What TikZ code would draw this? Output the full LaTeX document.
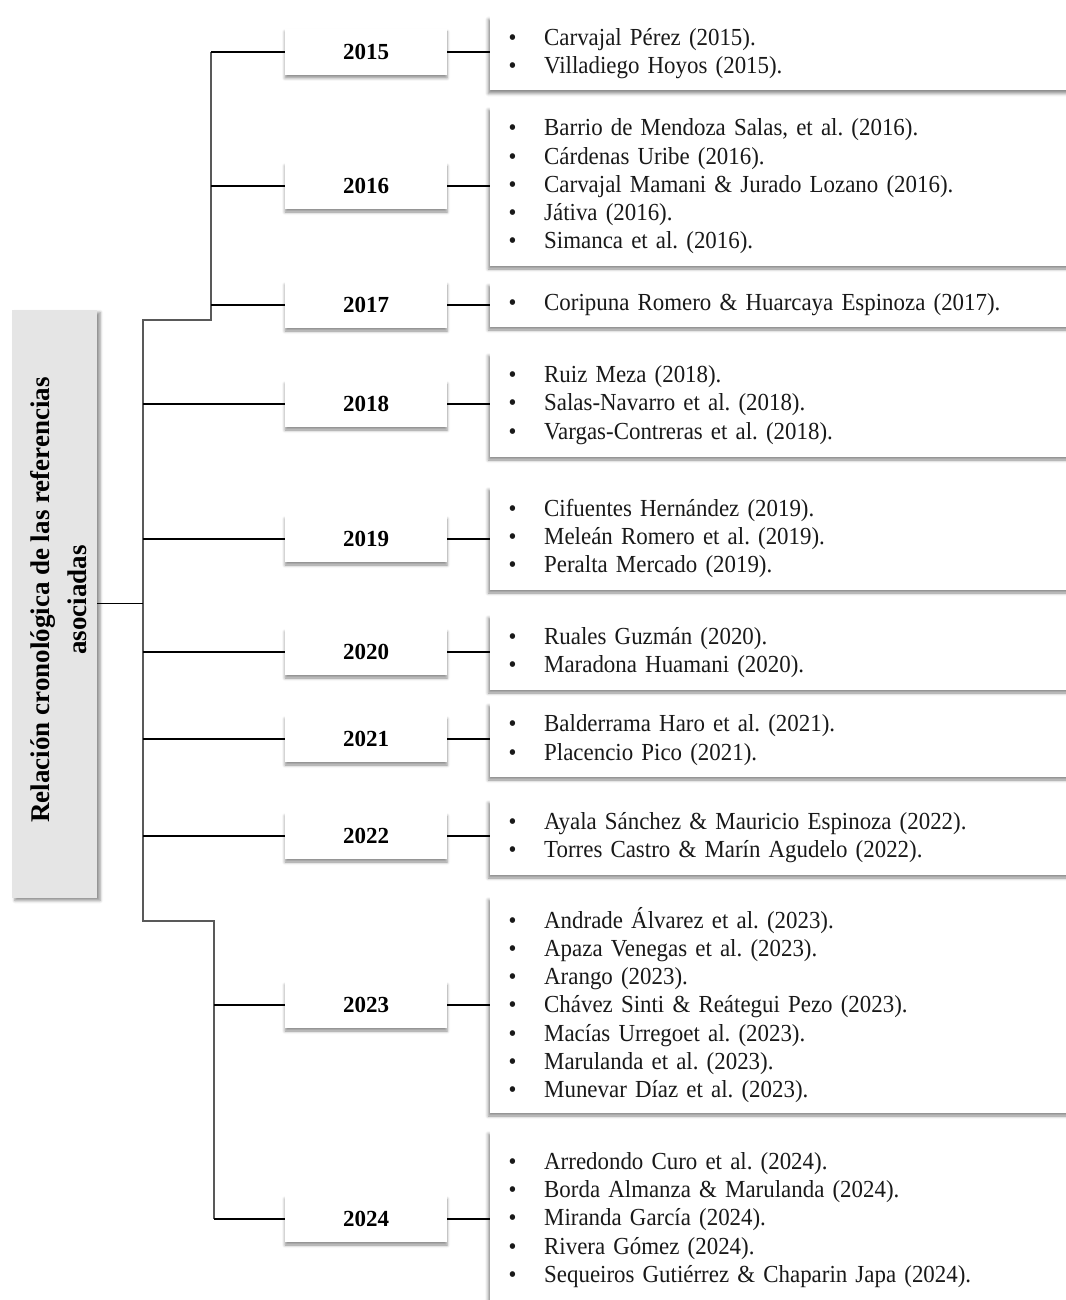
\documentclass[tikz,border=0pt]{standalone}
\usepackage{fontspec}
\setmainfont{Liberation Serif}
\newfontfamily\reffont{Liberation Serif}[FakeStretch=0.935]
\usetikzlibrary{shadows.blur}
\newcommand{\bl}[1]{\makebox[36pt][l]{\hspace{0.5pt}{\fontsize{24}{24}\selectfont\textbullet}}#1}
\frenchspacing
\begin{document}
\begin{tikzpicture}[x=1pt,y=-1pt,
  yearbox/.style={fill=white, minimum width=162pt, minimum height=46pt, inner sep=0pt,
    font=\fontsize{23}{26}\selectfont\bfseries,
    blur shadow={shadow xshift=0pt, shadow yshift=-3pt, shadow blur radius=3pt, shadow opacity=45}},
  refbox/.style={fill=white, anchor=west, text width=560pt, inner xsep=18pt, inner ysep=0pt, align=left,
    font=\reffont\fontsize{24.5}{28.2}\selectfont, text=black!90,
    blur shadow={shadow xshift=-2pt, shadow yshift=-3pt, shadow blur radius=3pt, shadow opacity=45}},
  leftbox/.style={fill=black!10, minimum width=85pt, minimum height=588pt, inner sep=0pt,
    blur shadow={shadow xshift=3pt, shadow yshift=-3pt, shadow blur radius=3pt, shadow opacity=45}},
  vline/.style={draw=black!65, line width=1.8pt},
  hline/.style={draw=black, line width=1.3pt}
]
\useasboundingbox (0,0) rectangle (1065,1300);

% left box
\node[leftbox] (left) at (54.5,603.5) {};
\node[rotate=90, align=center, font=\fontsize{27}{37}\selectfont\bfseries] (lefttext) at (59,600)
  {Relación cronológica de las referencias\\asociadas};

% year boxes
\node[yearbox] (y2015) at (366,52) {2015};
\node[yearbox] (y2016) at (366,186) {2016};
\node[yearbox] (y2017) at (366,305) {2017};
\node[yearbox] (y2018) at (366,404) {2018};
\node[yearbox] (y2019) at (366,539) {2019};
\node[yearbox] (y2020) at (366,652) {2020};
\node[yearbox] (y2021) at (366,739) {2021};
\node[yearbox] (y2022) at (366,836) {2022};
\node[yearbox] (y2023) at (366,1005) {2023};
\node[yearbox] (y2024) at (366,1219) {2024};

% reference boxes
\node[refbox, minimum height=74pt] (r2015) at (490,53.5)
  {\bl{Carvajal Pérez (2015).}\\\bl{Villadiego Hoyos (2015).}};
\node[refbox, minimum height=159pt] (r2016) at (490,186.5)
  {\bl{Barrio de Mendoza Salas, et al. (2016).}\\\bl{Cárdenas Uribe (2016).}\\\bl{Carvajal Mamani \& Jurado Lozano (2016).}\\\bl{Játiva (2016).}\\\bl{Simanca et al. (2016).}};
\node[refbox, minimum height=44pt] (r2017) at (490,305)
  {\bl{Coripuna Romero \& Huarcaya Espinoza (2017).}};
\node[refbox, minimum height=104pt] (r2018) at (490,405)
  {\bl{Ruiz Meza (2018).}\\\bl{Salas-Navarro et al. (2018).}\\\bl{Vargas-Contreras et al. (2018).}};
\node[refbox, minimum height=103pt] (r2019) at (490,538.5)
  {\bl{Cifuentes Hernández (2019).}\\\bl{Meleán Romero et al. (2019).}\\\bl{Peralta Mercado (2019).}};
\node[refbox, minimum height=75pt] (r2020) at (490,652.5)
  {\bl{Ruales Guzmán (2020).}\\\bl{Maradona Huamani (2020).}};
\node[refbox, minimum height=74pt] (r2021) at (490,740)
  {\bl{Balderrama Haro et al. (2021).}\\\bl{Placencio Pico (2021).}};
\node[refbox, minimum height=75pt] (r2022) at (490,837.5)
  {\bl{Ayala Sánchez \& Mauricio Espinoza (2022).}\\\bl{Torres Castro \& Marín Agudelo (2022).}};
\node[refbox, minimum height=216pt] (r2023) at (490,1005)
  {\bl{Andrade Álvarez et al. (2023).}\\\bl{Apaza Venegas et al. (2023).}\\\bl{Arango (2023).}\\\bl{Chávez Sinti \& Reátegui Pezo (2023).}\\\bl{Macías Urregoet al. (2023).}\\\bl{Marulanda et al. (2023).}\\\bl{Munevar Díaz et al. (2023).}};
\node[refbox, minimum height=178pt] (r2024) at (490,1220)
  {\bl{Arredondo Curo et al. (2024).}\\\bl{Borda Almanza \& Marulanda (2024).}\\\bl{Miranda García (2024).}\\\bl{Rivera Gómez (2024).}\\\bl{Sequeiros Gutiérrez \& Chaparin Japa (2024).}};

% trunk coordinates
\coordinate (T1) at (143,320);
\coordinate (T2) at (143,921);
\coordinate (U1) at (211,52);
\coordinate (U2) at (211,320);
\coordinate (L1) at (214,921);
\coordinate (L2) at (214,1219);

\draw[vline] (U1) -- (U2) -- (T1) -- (T2) -- (L1) -- (L2);

% branches
\draw[hline] (left.east) -- (left.east -| T1);
\draw[hline] (U1) -- (y2015.west);
\draw[hline] (y2016.west -| U1) -- (y2016.west);
\draw[hline] (y2017.west -| U1) -- (y2017.west);
\draw[hline] (y2018.west -| T1) -- (y2018.west);
\draw[hline] (y2019.west -| T1) -- (y2019.west);
\draw[hline] (y2020.west -| T1) -- (y2020.west);
\draw[hline] (y2021.west -| T1) -- (y2021.west);
\draw[hline] (y2022.west -| T1) -- (y2022.west);
\draw[hline] (y2023.west -| L1) -- (y2023.west);
\draw[hline] (L2) -- (y2024.west);

% year to references
\foreach \y in {2015,2016,2017,2018,2019,2020,2021,2022,2023,2024}
  \draw[hline] (y\y.east) -- (y\y.east -| r\y.west);
\end{tikzpicture}
\end{document}
